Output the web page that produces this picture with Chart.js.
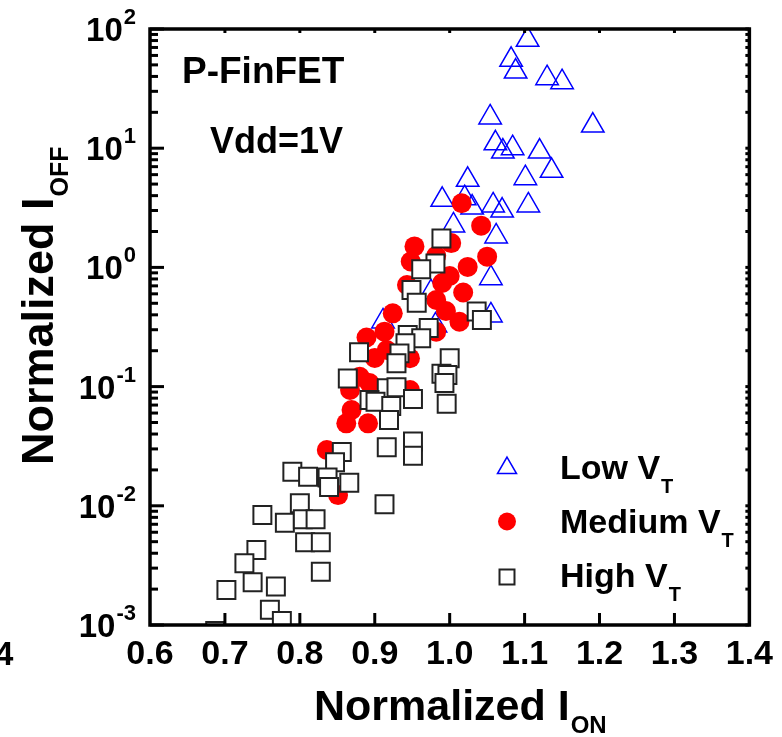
<!DOCTYPE html>
<html>
<head>
<meta charset="utf-8">
<script src="https://cdn.jsdelivr.net/npm/chart.js@4/dist/chart.umd.min.js"></script>
<style>
  html, body { margin: 0; padding: 0; background: #fff; }
  #chart { display: block; }
</style>
</head>
<body>
<canvas id="chart" width="782" height="737"></canvas>
<script>
    // Low VT (open blue triangles)
    const lowX = [1.104, 1.082, 1.088, 1.130, 1.150, 1.054, 1.191, 1.061, 1.084, 1.071, 1.120, 1.136, 1.024, 1.101,
        0.990, 1.020, 1.030, 1.058, 1.070, 1.105, 1.005, 1.062, 1.055, 1.055, 0.911, 0.975, 0.981]
    const lowY = [81.2, 55.2, 44.0, 38.7, 35.8, 18.1, 15.5, 11.0, 10.0, 9.38, 9.38, 6.46, 5.43, 5.60,
        3.69, 3.81, 3.18, 3.31, 3.00, 3.31, 2.25, 1.82, 0.812, 0.395, 0.352, 0.62, 0.326]

    // Medium VT (filled red circles)
    const mediumX = [1.016, 1.042, 0.953, 1.002, 0.982, 1.050, 0.948, 1.024, 1.000, 0.990, 0.943, 1.018, 0.982, 0.995,
        0.924, 1.013, 0.982, 0.913, 0.889, 0.947, 0.916, 0.900, 0.880, 0.867, 0.947, 0.893, 0.869, 0.862, 0.891, 0.836, 0.851]
    const mediumY = [3.45, 2.24, 1.50, 1.60, 1.25, 1.23, 1.12, 1.01, 0.847, 0.740, 0.712, 0.616, 0.533, 0.431,
        0.412, 0.350, 0.289, 0.289, 0.258, 0.173, 0.203, 0.174, 0.121, 0.0937, 0.0937, 0.107, 0.0636, 0.0492, 0.0492, 0.0294, 0.0123]

    // High VT (open black squares)
    const highX = [0.989, 0.981, 0.962, 0.949, 0.956, 1.036, 1.043, 0.972, 0.944, 0.962, 0.941, 0.933, 0.929, 0.879,
        1.000, 0.989, 0.997, 0.993, 0.864, 0.916, 0.929, 0.893, 0.901, 0.922, 0.951, 0.996, 0.919, 0.951, 0.916, 0.856,
        0.951, 0.847, 0.790, 0.811, 0.837, 0.839, 0.866, 0.913, 0.800, 0.750, 0.780, 0.804, 0.821, 0.807, 0.828, 0.828,
        0.742, 0.726, 0.737, 0.768, 0.702, 0.760, 0.776, 0.687]
    const highY = [1.75, 1.08, 0.964, 0.646, 0.506, 0.427, 0.362, 0.310, 0.271, 0.254, 0.231, 0.190, 0.157, 0.194,
        0.173, 0.128, 0.125, 0.107, 0.117, 0.0968, 0.0987, 0.0772, 0.0747, 0.0687, 0.0787, 0.0719, 0.0525, 0.0346, 0.0310, 0.0283,
        0.0263, 0.0232, 0.0193, 0.0175, 0.0173, 0.0144, 0.0156, 0.0103, 0.0105, 0.00837, 0.00721, 0.00770, 0.00770, 0.00494, 0.00494, 0.00280,
        0.00426, 0.00329, 0.00228, 0.00210, 0.00197, 0.00134, 0.00108, 0.00089]

    const xTickValues = [0.6, 0.7, 0.8, 0.9, 1.0, 1.1, 1.2, 1.3, 1.4]
    const yTickExps = [-3, -2, -1, 0, 1, 2]
    const seriesNames = ["Low V", "Medium V", "High V"]
    const seriesSub = "T"
    const notes = ["P-FinFET", "Vdd=1V"]

    const FAMILY = "'Liberation Sans', Arial, Helvetica, sans-serif"
    const bold = (size) => `bold ${size}px ${FAMILY}`
    const toPoints = (xs, ys) => xs.map((x, i) => ({x: x, y: ys[i]}))

    const line = (ctx, x1, y1, x2, y2) => {
        ctx.beginPath()
        ctx.moveTo(x1, y1)
        ctx.lineTo(x2, y2)
        ctx.stroke()
    }

    // text followed by a smaller lowered part (subscript)
    const subText = (ctx, x, y, main, sub, size, subSize, drop) => {
        ctx.font = bold(size)
        ctx.fillText(main, x, y)
        const w = ctx.measureText(main).width
        ctx.font = bold(subSize)
        ctx.fillText(sub, x + w + 1, y + drop)
    }

    const frame = {
        id: "frame",
        afterDatasetsDraw(chart) {
            const {ctx, chartArea: a, scales} = chart
            const xs = scales.x, ys = scales.y
            ctx.save()
            ctx.strokeStyle = "#000"
            ctx.lineCap = "butt"

            // ticks, long ones inside on left/bottom, short ones on top/right
            ctx.lineWidth = 3
            for (const v of xTickValues) {
                const px = xs.getPixelForValue(v)
                if (v > 0.6 && v < 1.4) {
                    line(ctx, px, a.bottom, px, a.bottom - 12)
                    line(ctx, px, a.top, px, a.top + 4)
                }
            }
            for (const e of yTickExps) {
                const py = ys.getPixelForValue(Math.pow(10, e))
                line(ctx, a.left, py, a.left + 14, py)
                line(ctx, a.right, py, a.right - 4, py)
                if (e < 2) {
                    for (let m = 2; m <= 9; m++) {
                        const pm = ys.getPixelForValue(m * Math.pow(10, e))
                        line(ctx, a.left, pm, a.left + 8, pm)
                        line(ctx, a.right, pm, a.right - 4, pm)
                    }
                }
            }

            ctx.lineWidth = 3.5
            ctx.strokeRect(a.left, a.top, a.right - a.left, a.bottom - a.top)
            ctx.restore()
        },
        afterDraw(chart) {
            const {ctx, scales} = chart
            const ys = scales.y
            ctx.save()
            ctx.fillStyle = "#000"
            ctx.textBaseline = "alphabetic"

            // y tick labels 10^n
            for (const e of yTickExps) {
                const py = ys.getPixelForValue(Math.pow(10, e))
                const sup = e < 0 ? "-" + Math.abs(e) : String(e)
                ctx.textAlign = "right"
                ctx.font = bold(22)
                ctx.fillText(sup, 136, py - 5)
                const sw = ctx.measureText(sup).width
                ctx.font = bold(33)
                ctx.fillText("10", 136 - sw - 1, py + 12)
            }

            ctx.textAlign = "left"
            // cut-off tick label at the left border
            ctx.font = bold(33)
            ctx.fillText("4", -5, 665)

            // axis titles
            subText(ctx, 314, 720, "Normalized I", "ON", 43, 24, 13)
            ctx.save()
            ctx.translate(53, 465)
            ctx.rotate(-Math.PI / 2)
            subText(ctx, 0, 0, "Normalized I", "OFF", 45, 25, 15)
            ctx.restore()

            // notes
            ctx.font = bold(37)
            ctx.fillText(notes[0], 182, 83)
            ctx.font = bold(36)
            ctx.fillText(notes[1], 210, 153)
            ctx.restore()
        }
    }

    // legend marks are drawn with the dataset styles
    const legendMarks = {
        id: "legendMarks",
        afterDraw(chart) {
            const ctx = chart.ctx
            const rows = [468, 521.5, 577]
            const radii = [11, 9, 10.6]
            const baselines = [479, 533, 587]
            ctx.save()
            chart.data.datasets.forEach((ds, i) => {
                ctx.strokeStyle = ds.borderColor
                ctx.fillStyle = ds.backgroundColor
                ctx.lineWidth = ds.borderWidth
                Chart.helpers.drawPoint(ctx, {pointStyle: ds.pointStyle, radius: radii[i], borderWidth: ds.borderWidth, rotation: 0}, 507, rows[i])
                ctx.fillStyle = "#000"
                ctx.textAlign = "left"
                subText(ctx, 560, baselines[i], seriesNames[i], seriesSub, 34, 20, 14)
            })
            ctx.restore()
        }
    }

    new Chart(document.getElementById("chart"), {
        type: "scatter",
        data: {
            datasets: [{
                label: "Low VT",
                data: toPoints(lowX, lowY),
                pointStyle: "triangle",
                pointRadius: 13,
                borderColor: "#0000ff",
                backgroundColor: "rgba(0,0,0,0)",
                borderWidth: 1.5,
                order: 3
            }, {
                label: "Medium VT",
                data: toPoints(mediumX, mediumY),
                pointStyle: "circle",
                pointRadius: 10,
                borderColor: "#ff0000",
                backgroundColor: "#ff0000",
                borderWidth: 0,
                order: 2
            }, {
                label: "High VT",
                data: toPoints(highX, highY),
                pointStyle: "rect",
                pointRadius: 12.7,
                borderColor: "#222222",
                backgroundColor: "#ffffff",
                borderWidth: 2,
                order: 1
            }]
        },
        options: {
            responsive: false,
            animation: false,
            events: [],
            layout: {padding: {left: 0, right: 32, top: 29, bottom: 0}},
            plugins: {legend: {display: false}, tooltip: {enabled: false}},
            scales: {
                x: {
                    type: "linear",
                    min: 0.6,
                    max: 1.4,
                    afterBuildTicks: (s) => { s.ticks = xTickValues.map(v => ({value: v})) },
                    afterFit: (s) => { s.height = 112 },
                    grid: {display: false, drawTicks: false},
                    border: {display: false},
                    ticks: {
                        autoSkip: false,
                        maxRotation: 0,
                        padding: 9,
                        color: "#000",
                        font: {family: FAMILY, size: 34, weight: "bold"},
                        callback: (v) => Number(v).toFixed(1)
                    }
                },
                y: {
                    type: "logarithmic",
                    min: 0.001,
                    max: 100,
                    afterFit: (s) => { s.width = 150 },
                    grid: {display: false, drawTicks: false},
                    border: {display: false},
                    ticks: {display: false}
                }
            }
        },
        plugins: [frame, legendMarks]
    })
</script>
</body>
</html>
